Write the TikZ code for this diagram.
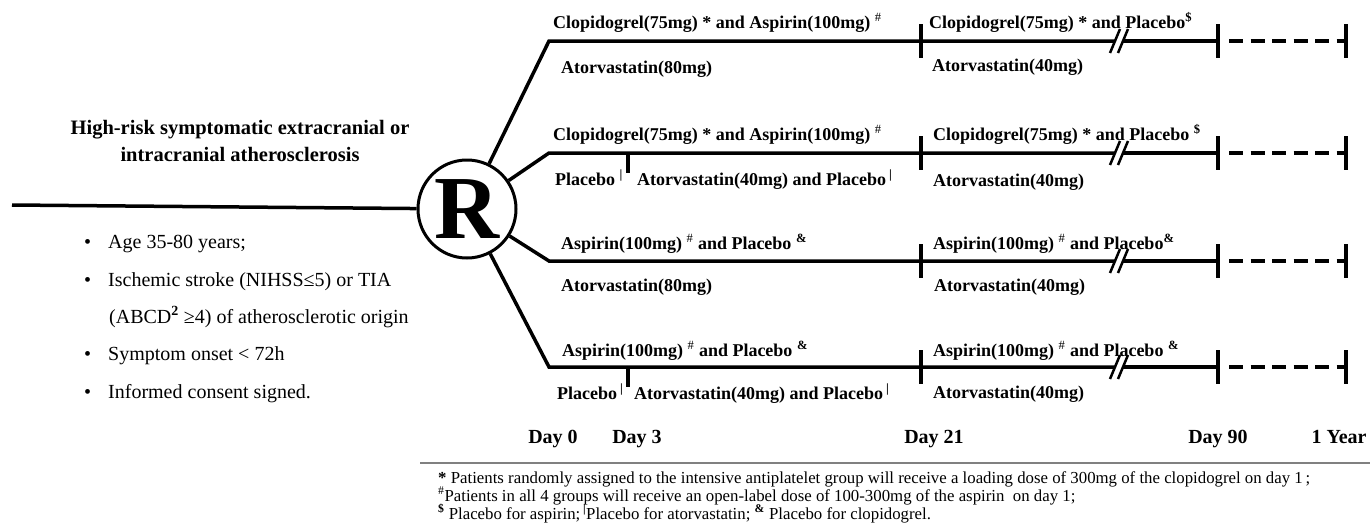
\documentclass[tikz,border=0pt]{standalone}
\usepackage{fontspec}
\setmainfont{Liberation Serif}
\newcommand{\fnHash}{\textsuperscript{\mdseries\#}}
\newcommand{\fnDollar}{\textsuperscript{\bfseries\$}}
\newcommand{\fnBar}{\textsuperscript{\bfseries|}}
\newcommand{\fnAmp}{\textsuperscript{\bfseries\&}}
\begin{document}
\begin{tikzpicture}[x=1pt,y=-1pt,
    arm/.style={line width=3.5pt},
    tickmark/.style={line width=3.5pt},
    brk/.style={line width=2.5pt},
    lab/.style={anchor=base west,inner sep=0pt,font=\fontsize{18}{20}\selectfont\bfseries},
    day/.style={anchor=base,inner sep=0pt,font=\fontsize{20}{22}\selectfont\bfseries},
    crit/.style={anchor=base west,inner sep=0pt,font=\fontsize{20}{22}\selectfont},
    foot/.style={anchor=base west,inner sep=0pt,font=\fontsize{16.8}{18}\selectfont}]
  \useasboundingbox (0,0) rectangle (1370,530);
  % randomisation
  \node[circle,draw,line width=3pt,minimum size=98pt,inner sep=0pt,
        font=\fontsize{90}{90}\selectfont\bfseries] (R) at (467,209) {R};
  \coordinate (start) at (12,205);
  \draw[arm] (start) -- (R);
  \node[anchor=base,inner sep=0pt,align=center,font=\fontsize{20.5}{27}\selectfont\bfseries]
    (title) at (240,161) {High-risk symptomatic extracranial or\\intracranial atherosclerosis};
  \node[crit] (b1) at (84,248) {\textbullet\hspace{17pt}Age 35-80 years;};
  \node[crit] (b2) at (84,286) {\textbullet\hspace{17pt}Ischemic stroke (NIHSS≤5) or TIA};
  \node[crit] (b3) at (109,323) {(ABCD\textsuperscript{\bfseries 2} ≥4) of atherosclerotic origin};
  \node[crit] (b4) at (84,360) {\textbullet\hspace{17pt}Symptom onset < 72h};
  \node[crit] (b5) at (84,398) {\textbullet\hspace{17pt}Informed consent signed.};
  % arms
  \coordinate (k1) at (549,41);
  \coordinate (k2) at (549,153);
  \coordinate (k3) at (549,261);
  \coordinate (k4) at (549,367);
  \coordinate (p1) at (1115,41);
  \coordinate (p2) at (1115,153);
  \coordinate (p3) at (1115,261);
  \coordinate (p4) at (1115,367);
  \coordinate (q1) at (1123,41);
  \coordinate (q2) at (1123,153);
  \coordinate (q3) at (1123,261);
  \coordinate (q4) at (1123,367);
  \coordinate (t1) at (1218,41);
  \coordinate (t2) at (1218,153);
  \coordinate (t3) at (1218,261);
  \coordinate (t4) at (1218,367);
  \coordinate (y1) at (1346,41);
  \coordinate (y2) at (1346,153);
  \coordinate (y3) at (1346,261);
  \coordinate (y4) at (1346,367);
  \draw[arm] (R) -- (k1) -- (p1);
  \draw[arm] (R) -- (k2) -- (p2);
  \draw[arm] (R) -- (k3) -- (p3);
  \draw[arm] (R) -- (k4) -- (p4);
  \draw[arm] (q1) -- (t1);
  \draw[arm] (q2) -- (t2);
  \draw[arm] (q3) -- (t3);
  \draw[arm] (q4) -- (t4);
  \begin{scope}[arm,dash pattern=on 14pt off 7.5pt,shorten <=11pt]
    \draw (t1) -- (y1);
    \draw (t2) -- (y2);
    \draw (t3) -- (y3);
    \draw (t4) -- (y4);
  \end{scope}
  % ticks
  \draw[tickmark] (921,24) -- (921,58);
  \draw[tickmark] (921,136) -- (921,170);
  \draw[tickmark] (921,244) -- (921,278);
  \draw[tickmark] (921,350) -- (921,384);
  \draw[tickmark] (1218,24) -- (1218,58);
  \draw[tickmark] (1218,136) -- (1218,170);
  \draw[tickmark] (1218,244) -- (1218,278);
  \draw[tickmark] (1218,350) -- (1218,384);
  \draw[tickmark] (1346,24) -- (1346,58);
  \draw[tickmark] (1346,136) -- (1346,170);
  \draw[tickmark] (1346,244) -- (1346,278);
  \draw[tickmark] (1346,350) -- (1346,384);
  \draw[tickmark] (628,153) -- (628,173);
  \draw[tickmark] (628,367) -- (628,387);
  % breaks
  \draw[brk] (p1) ++(-5,12) -- ++(10,-24);
  \draw[brk] (q1) ++(-5,12) -- ++(10,-24);
  \draw[brk] (p2) ++(-5,12) -- ++(10,-24);
  \draw[brk] (q2) ++(-5,12) -- ++(10,-24);
  \draw[brk] (p3) ++(-5,12) -- ++(10,-24);
  \draw[brk] (q3) ++(-5,12) -- ++(10,-24);
  \draw[brk] (p4) ++(-5,12) -- ++(10,-24);
  \draw[brk] (q4) ++(-5,12) -- ++(10,-24);
  % labels
  \node[lab] (a1) at (553,28) {Clopidogrel(75mg) * and Aspirin(100mg) \fnHash};
  \node[lab] (s1) at (561,73) {Atorvastatin(80mg)};
  \node[lab] (c1) at (929,28) {Clopidogrel(75mg) * and Placebo\fnDollar};
  \node[lab] (v1) at (932,71) {Atorvastatin(40mg)};
  \node[lab] (a2) at (553,140) {Clopidogrel(75mg) * and Aspirin(100mg) \fnHash};
  \node[lab] (s2) at (555,185) {Placebo \fnBar};
  \node[lab] (w2) at (637,185) {Atorvastatin(40mg) and Placebo\,\fnBar};
  \node[lab] (c2) at (933,140) {Clopidogrel(75mg) * and Placebo \fnDollar};
  \node[lab] (v2) at (933,186) {Atorvastatin(40mg)};
  \node[lab] (a3) at (561,249) {Aspirin(100mg) \fnHash\ and Placebo \fnAmp};
  \node[lab] (s3) at (561,291) {Atorvastatin(80mg)};
  \node[lab] (c3) at (933,249) {Aspirin(100mg) \fnHash\ and Placebo\fnAmp};
  \node[lab] (v3) at (934,291) {Atorvastatin(40mg)};
  \node[lab] (a4) at (562,356) {Aspirin(100mg) \fnHash\ and Placebo \fnAmp};
  \node[lab] (s4) at (557,399) {Placebo\,\fnBar};
  \node[lab] (w4) at (634,399) {Atorvastatin(40mg) and Placebo\,\fnBar};
  \node[lab] (c4) at (933,356) {Aspirin(100mg) \fnHash\ and Placebo \fnAmp};
  \node[lab] (v4) at (933,398) {Atorvastatin(40mg)};
  % days
  \node[day] (d0) at (553,443) {Day 0};
  \node[day] (d3) at (637,443) {Day 3};
  \node[day] (d21) at (934,443) {Day 21};
  \node[day] (d90) at (1218,443) {Day 90};
  \node[day] (y) at (1339,443) {1 Year};
  % footnotes
  \coordinate (rule) at (420,463);
  \coordinate (ruleend) at (1370,463);
  \draw[gray,line width=1.2pt] (rule) -- (ruleend);
  \node[foot] (f1) at (438,483) {\textbf{*} Patients randomly assigned to the intensive antiplatelet group will receive a loading dose of 300mg of the clopidogrel on day 1\,;};
  \node[foot] (f2) at (438,501) {\fnHash Patients in all 4 groups will receive an open-label dose of 100-300mg of the aspirin\ \ on day 1;};
  \node[foot] (f3) at (438,519) {\fnDollar\ Placebo for aspirin;\,\fnBar Placebo for atorvastatin; \fnAmp\ Placebo for clopidogrel.};
\end{tikzpicture}
\end{document}
